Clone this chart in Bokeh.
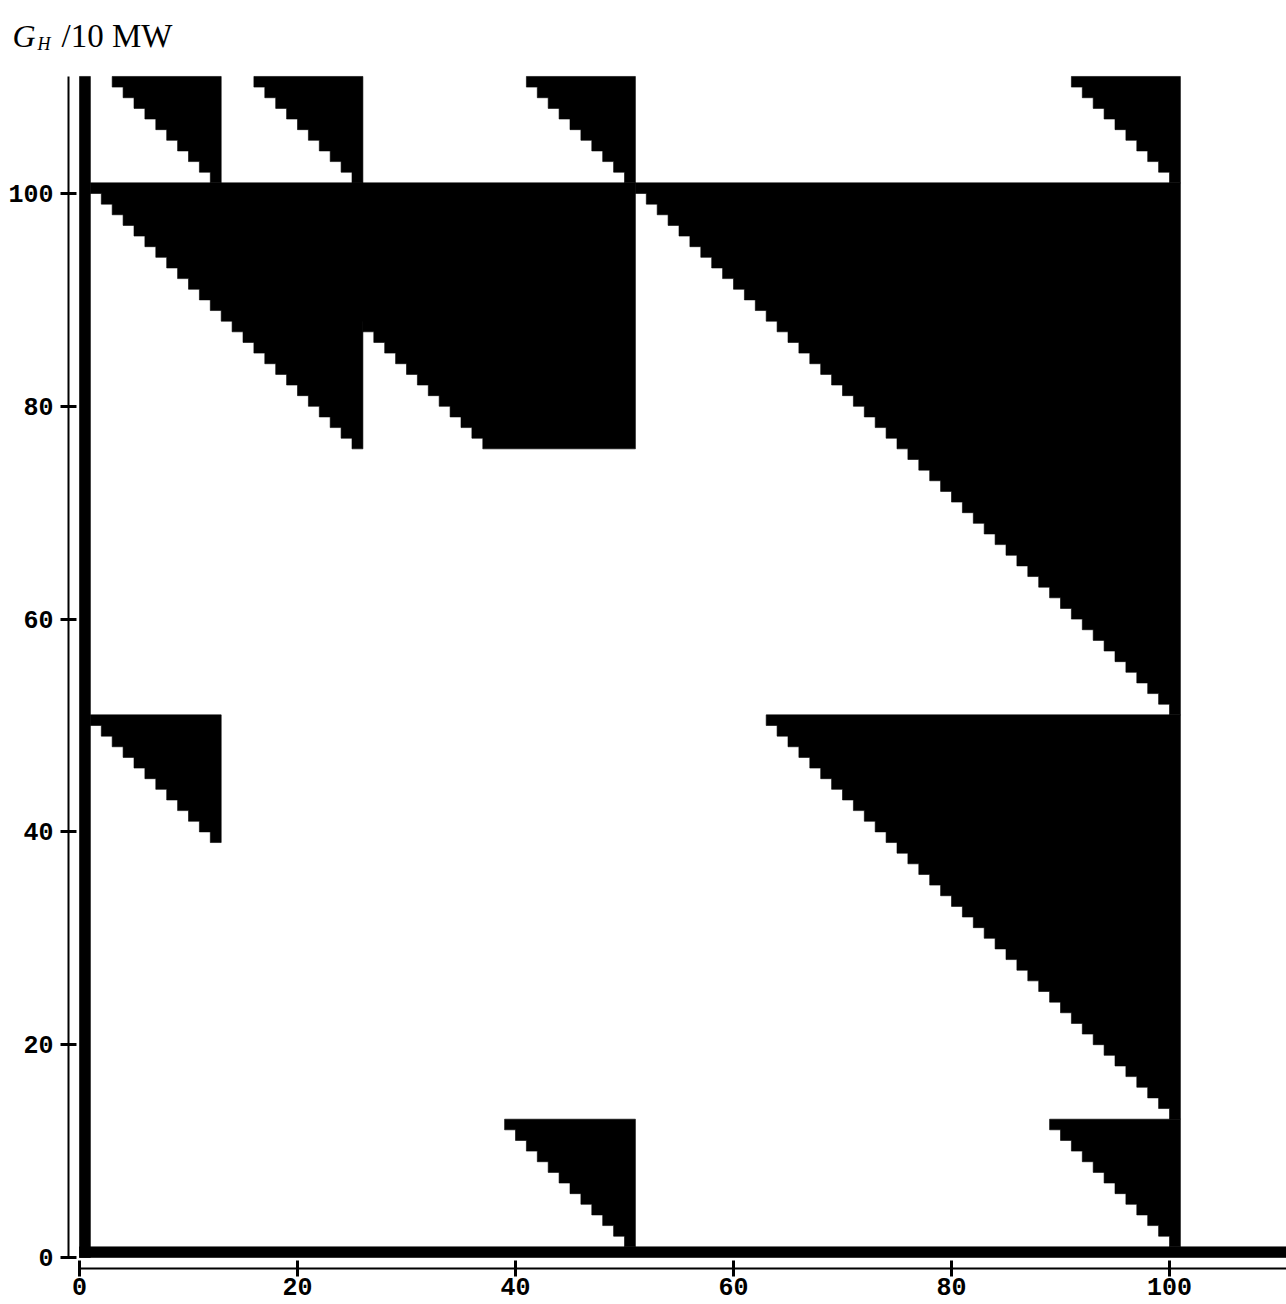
from bokeh.plotting import figure
from bokeh.models import Range1d, LinearAxis, FixedTicker, Label
from bokeh.embed import file_html
from bokeh.resources import INLINE

# ---- data (cell units) ----
x_ticks = [0, 20, 40, 60, 80, 100]
y_ticks = [0, 20, 40, 60, 80, 100]

# staircase triangles: row j (cell [j, j+1]) is black on [max(right-(j-apex), clip), right]
tri_right  = [13, 26, 51, 101, 26, 51, 101, 101, 13, 51, 101]
tri_apex   = [100, 100, 100, 100, 75, 62, 50, 12, 38, 0, 0]
tri_bottom = [101, 101, 101, 101, 76, 76, 51, 13, 39, 1, 1]
tri_top    = [110, 110, 110, 110, 100, 100, 100, 50, 50, 12, 12]
tri_clip   = [0, 0, 0, 0, 1, 25, 0, 0, 1, 0, 0]

# solid bars along the axes
bar_left   = [0, 0]
bar_right  = [1, 112]
bar_bottom = [0, 0]
bar_top    = [111, 1]

title_main = "G"
title_sub = "H"
title_rest = "/10 MW"

# ---- build staircase polygons from the triangle parameters ----
xs, ys = [], []
for r, a, b, t, c in zip(tri_right, tri_apex, tri_bottom, tri_top, tri_clip):
    px, py = [r], [t + 1]
    for j in range(t, b - 1, -1):
        left = max(r - (j - a), c)
        px += [left, left]
        py += [j + 1, j]
    px.append(r)
    py.append(b)
    xs.append(px)
    ys.append(py)

W, H = 1286, 1304
sx, sy = 10.9, 10.64          # pixels per unit
x0 = -79.0 / sx               # x = 0 sits 79 px from the left edge
y1 = 1257.0 / sy              # y = 0 sits 1257 px from the top edge

p = figure(width=W, height=H,
           x_range=Range1d(x0, x0 + W / sx), y_range=Range1d(y1 - H / sy, y1),
           output_backend="svg", toolbar_location=None, title=None,
           x_axis_type=None, y_axis_type=None,
           min_border_left=0, min_border_right=0,
           min_border_top=0, min_border_bottom=0)
p.outline_line_color = None
p.xgrid.visible = False
p.ygrid.visible = False
p.background_fill_color = "white"
p.border_fill_color = "white"

p.patches(xs, ys, fill_color="black", line_color="black", line_width=0.6)
p.quad(left=bar_left, right=bar_right, bottom=bar_bottom, top=bar_top,
       fill_color="black", line_color="black", line_width=0.6)

def style_axis(ax, standoff):
    ax.axis_line_color = "black"
    ax.axis_line_width = 2
    ax.major_tick_line_color = "black"
    ax.major_tick_line_width = 3
    ax.major_tick_in = 8
    ax.major_tick_out = 8
    ax.minor_tick_line_color = None
    ax.major_label_text_font = "Liberation Mono"
    ax.major_label_text_font_size = "25px"
    ax.major_label_text_font_style = "bold"
    ax.major_label_text_color = "black"
    ax.major_label_standoff = standoff

xax = LinearAxis(ticker=FixedTicker(ticks=x_ticks), bounds=(0, 112),
                 fixed_location=-1.03)
style_axis(xax, 2)
yax = LinearAxis(ticker=FixedTicker(ticks=y_ticks), bounds=(0, 111),
                 fixed_location=-1.0)
style_axis(yax, 7)
p.add_layout(xax, "below")
p.add_layout(yax, "left")

# axis title  G_H /10 MW
p.add_layout(Label(x=(12 - 79) / sx, y=(1257 - 35) / sy, text=title_main,
                   text_font="Liberation Serif", text_font_style="italic",
                   text_font_size="32px", text_baseline="alphabetic",
                   text_color="black"))
p.add_layout(Label(x=(37 - 79) / sx, y=(1257 - 43) / sy, text=title_sub,
                   text_font="Liberation Serif", text_font_style="italic",
                   text_font_size="18px", text_baseline="alphabetic",
                   text_color="black"))
p.add_layout(Label(x=(61 - 79) / sx, y=(1257 - 35) / sy, text=title_rest,
                   text_font="Liberation Serif", text_font_size="33px",
                   text_baseline="alphabetic", text_color="black"))

open("out.html", "w").write(file_html(p, INLINE))
